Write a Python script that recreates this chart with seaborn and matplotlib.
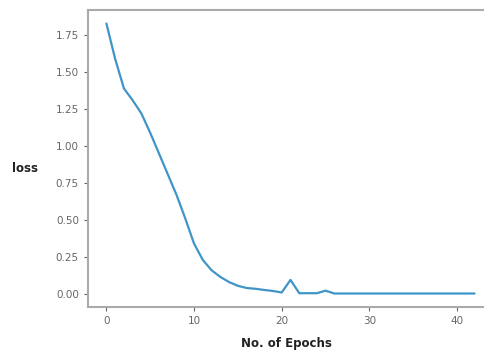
import matplotlib
matplotlib.use("Agg")
import matplotlib.pyplot as plt
import seaborn as sns
import pandas as pd

epochs = list(range(43))
loss = [1.83, 1.59, 1.39, 1.31, 1.22, 1.09, 0.95, 0.81, 0.67, 0.51, 0.34,
        0.23, 0.16, 0.115, 0.08, 0.055, 0.04, 0.035, 0.027, 0.02, 0.01,
        0.095, 0.005, 0.005, 0.005, 0.022, 0.003, 0.003, 0.003, 0.003, 0.003,
        0.003, 0.003, 0.003, 0.003, 0.003, 0.003, 0.003, 0.003, 0.003, 0.003,
        0.003, 0.003]
xticks = [0, 10, 20, 30, 40]
yticks = [0.00, 0.25, 0.50, 0.75, 1.00, 1.25, 1.50, 1.75]

df = pd.DataFrame({"epoch": epochs, "loss": loss})

sns.set_style("ticks")
plt.rcParams['font.family'] = ['DejaVu Sans']

fig = plt.figure(figsize=(4.85, 3.53), dpi=100)
ax = fig.add_axes([88/485, 46/353, 405/485, 297/353])
sns.lineplot(data=df, x="epoch", y="loss", ax=ax, color="#3f95c8", linewidth=1.6)

ax.set_xticks(xticks)
ax.set_yticks(yticks)
ax.set_yticklabels([f"{v:.2f}" for v in yticks])
ax.tick_params(axis="both", labelsize=7.5, colors="#666666", length=3, width=0.8)
for s in ax.spines.values():
    s.set_color("#aaaaaa")
    s.set_linewidth(1.5)
ax.spines["right"].set_visible(False)

ax.set_xlabel("No. of Epochs", fontsize=8.5, fontweight="bold", color="#222222")
ax.set_ylabel("loss", fontsize=8.5, fontweight="bold", color="#222222",
              rotation=0, va="center", ha="center")
ax.yaxis.set_label_coords(-0.155, 0.468)
ax.xaxis.set_label_coords(0.49, -0.102)

fig.savefig("out.png", dpi=100)
